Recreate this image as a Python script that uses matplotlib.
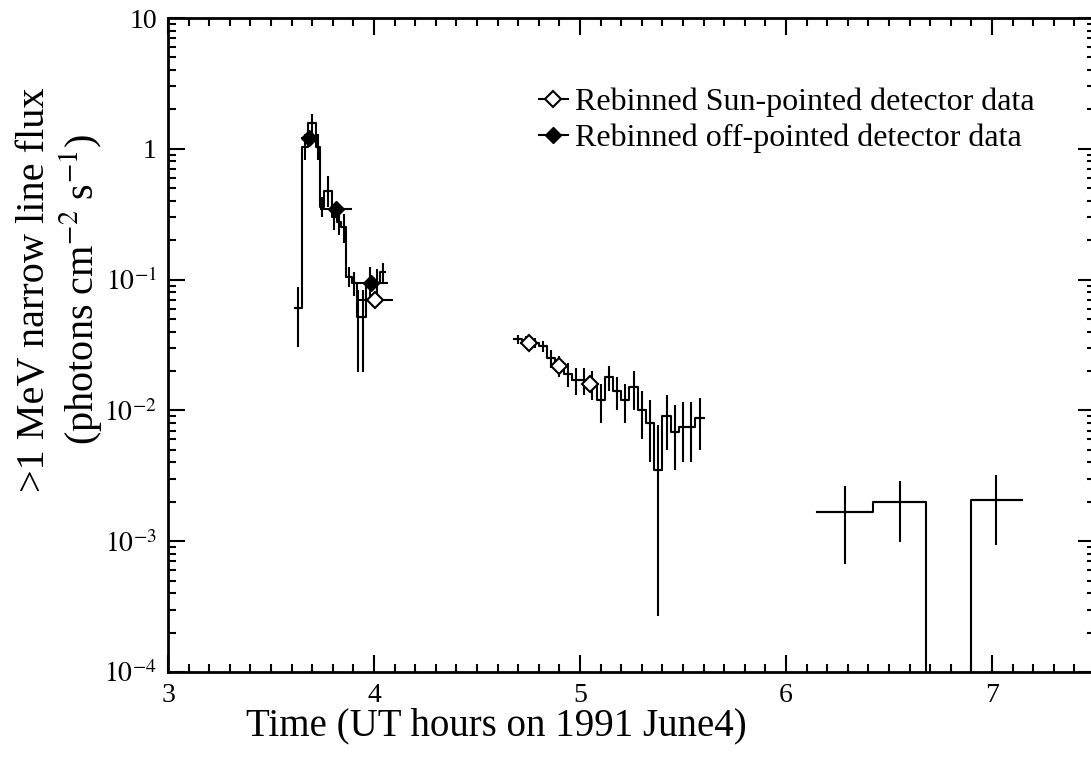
import matplotlib
matplotlib.use("Agg")
import matplotlib.pyplot as plt
import numpy as np

plt.rcParams["font.family"] = ["Liberation Serif", "DejaVu Serif"]
plt.rcParams["mathtext.fontset"] = "stix"

# histogram bins (hours), flux and 1-sigma errors
bin_lo = [3.616, 3.648, 3.681, 3.717, 3.738, 3.757, 3.796, 3.818, 3.840, 3.866,
          3.891, 3.915, 3.927, 3.963, 3.997, 4.031,
          4.68, 4.72, 4.76, 4.80, 4.84, 4.88, 4.92, 4.96, 5.00, 5.04, 5.08,
          5.12, 5.16, 5.20, 5.24, 5.28, 5.32, 5.36, 5.40, 5.44, 5.48, 5.52, 5.56,
          6.148, 6.424, 6.680, 6.896]
bin_hi = [3.648, 3.681, 3.717, 3.738, 3.757, 3.796, 3.818, 3.840, 3.866, 3.891,
          3.915, 3.927, 3.963, 3.997, 4.031, 4.055,
          4.72, 4.76, 4.80, 4.84, 4.88, 4.92, 4.96, 5.00, 5.04, 5.08, 5.12,
          5.16, 5.20, 5.24, 5.28, 5.32, 5.36, 5.40, 5.44, 5.48, 5.52, 5.56, 5.60,
          6.424, 6.680, 6.896, 7.147]
flux = [0.061, 1.03, 1.57, 1.03, 0.36, 0.48, 0.30, 0.277, 0.252, 0.105,
        0.0945, 0.052, 0.052, 0.094, 0.094, 0.115,
        0.035, 0.034, 0.033, 0.031, 0.025, 0.022, 0.019, 0.017, 0.017, 0.016, 0.012,
        0.018, 0.014, 0.012, 0.015, 0.010, 0.008, 0.0035, 0.009, 0.0068, 0.0075,
        0.0075, 0.0087,
        0.00167, 0.0020, 1e-6, 0.00207]
flux_hi = [0.088, 1.30, 1.85, 1.30, 0.43, 0.62, 0.37, 0.34, 0.32, 0.125,
           0.115, 0.084, 0.084, 0.125, 0.12, 0.135,
           0.038, 0.037, 0.036, 0.034, 0.029, 0.026, 0.023, 0.021, 0.021, 0.020,
           0.016, 0.022, 0.018, 0.016, 0.020, 0.014, 0.012, 0.0078, 0.013, 0.011,
           0.0115, 0.0115, 0.0125,
           0.00264, 0.00289, 1e-6, 0.00322]
flux_lo = [0.0305, 0.82, 1.30, 0.82, 0.30, 0.36, 0.24, 0.22, 0.19, 0.088,
           0.075, 0.0198, 0.0198, 0.07, 0.07, 0.095,
           0.032, 0.031, 0.030, 0.028, 0.021, 0.018, 0.015, 0.013, 0.013, 0.012,
           0.008, 0.014, 0.010, 0.008, 0.010, 0.006, 0.004, 0.00027, 0.005, 0.0035,
           0.004, 0.004, 0.005,
           0.000665, 0.00099, 1e-6, 0.00093]

# rebinned points
sun_t = [4.005, 4.75, 4.90, 5.05]
sun_dt = [0.086, 0.04, 0.04, 0.04]
sun_f = [0.0698, 0.033, 0.022, 0.016]
off_t = [3.686, 3.816, 3.984]
off_dt = [0.04, 0.076, 0.082]
off_f = [1.22, 0.348, 0.094]

fig = plt.figure(figsize=(10.91, 7.57), dpi=100)
ax = fig.add_axes([0.154, 0.1123, 0.8497, 0.8639])

lo = np.array(bin_lo)
hi = np.array(bin_hi)
f = np.array(flux)
segments = [(0, 16), (16, 39), (39, 43)]
for a, b in segments:
    xs = np.concatenate([lo[a:b], [hi[b - 1]]])
    ys = np.concatenate([f[a:b], [f[b - 1]]])
    ax.step(xs, np.clip(ys, 1e-6, None), where="post", color="black", lw=1.5)

ok = f > 1e-5
c = 0.5 * (lo + hi)
ax.errorbar(c[ok], f[ok], xerr=0.5 * (hi - lo)[ok],
            yerr=[(f - np.array(flux_lo))[ok], (np.array(flux_hi) - f)[ok]],
            fmt="none", ecolor="black", elinewidth=1.5, capsize=0)

ax.errorbar(sun_t, sun_f, xerr=sun_dt, fmt="D", ms=8, mfc="white",
            mec="black", mew=1.5, ecolor="black", elinewidth=1.5,
            color="black", label="Rebinned Sun-pointed detector data", zorder=5)
ax.errorbar(off_t, off_f, xerr=off_dt, fmt="D", ms=8, mfc="black",
            mec="black", ecolor="black", elinewidth=1.5, color="black",
            label="Rebinned off-pointed detector data", zorder=6)

ax.set_yscale("log")
ax.set_xlim(3, 7.5)
ax.set_ylim(1e-4, 10)
ax.set_xticks([3, 4, 5, 6, 7])
ax.set_xticks(np.arange(3, 7.51, 0.1), minor=True)
ax.set_yticks([1e-4, 1e-3, 1e-2, 1e-1, 1, 10])
ax.set_yticklabels([r"$10^{-4}$", r"$10^{-3}$", r"$10^{-2}$", r"$10^{-1}$",
                    "1", "10"])
ax.tick_params(which="both", direction="in", top=True, right=True,
               labelsize=20, width=1.5)
ax.tick_params(which="major", length=12, pad=8)
ax.tick_params(which="minor", length=6)
for s in ax.spines.values():
    s.set_linewidth(2)

ax.set_xlabel("Time (UT hours on 1991 June4)", fontsize=28)
ax.xaxis.set_label_coords(0.354, -0.054)
ax.set_ylabel(">1 MeV narrow line flux\n(photons cm$^{-2}$ s$^{-1}$)",
              fontsize=29, linespacing=1.1)
ax.yaxis.set_label_coords(-0.069, 0.585)

handles, labels = ax.get_legend_handles_labels()
ax.legend(handles, labels, loc="upper left", bbox_to_anchor=(0.396, 0.893),
          frameon=False, fontsize=23, handlelength=1.15, handletextpad=0.1,
          labelspacing=0.2, borderpad=0, borderaxespad=0)

fig.savefig("out.png", dpi=100, facecolor="white")
